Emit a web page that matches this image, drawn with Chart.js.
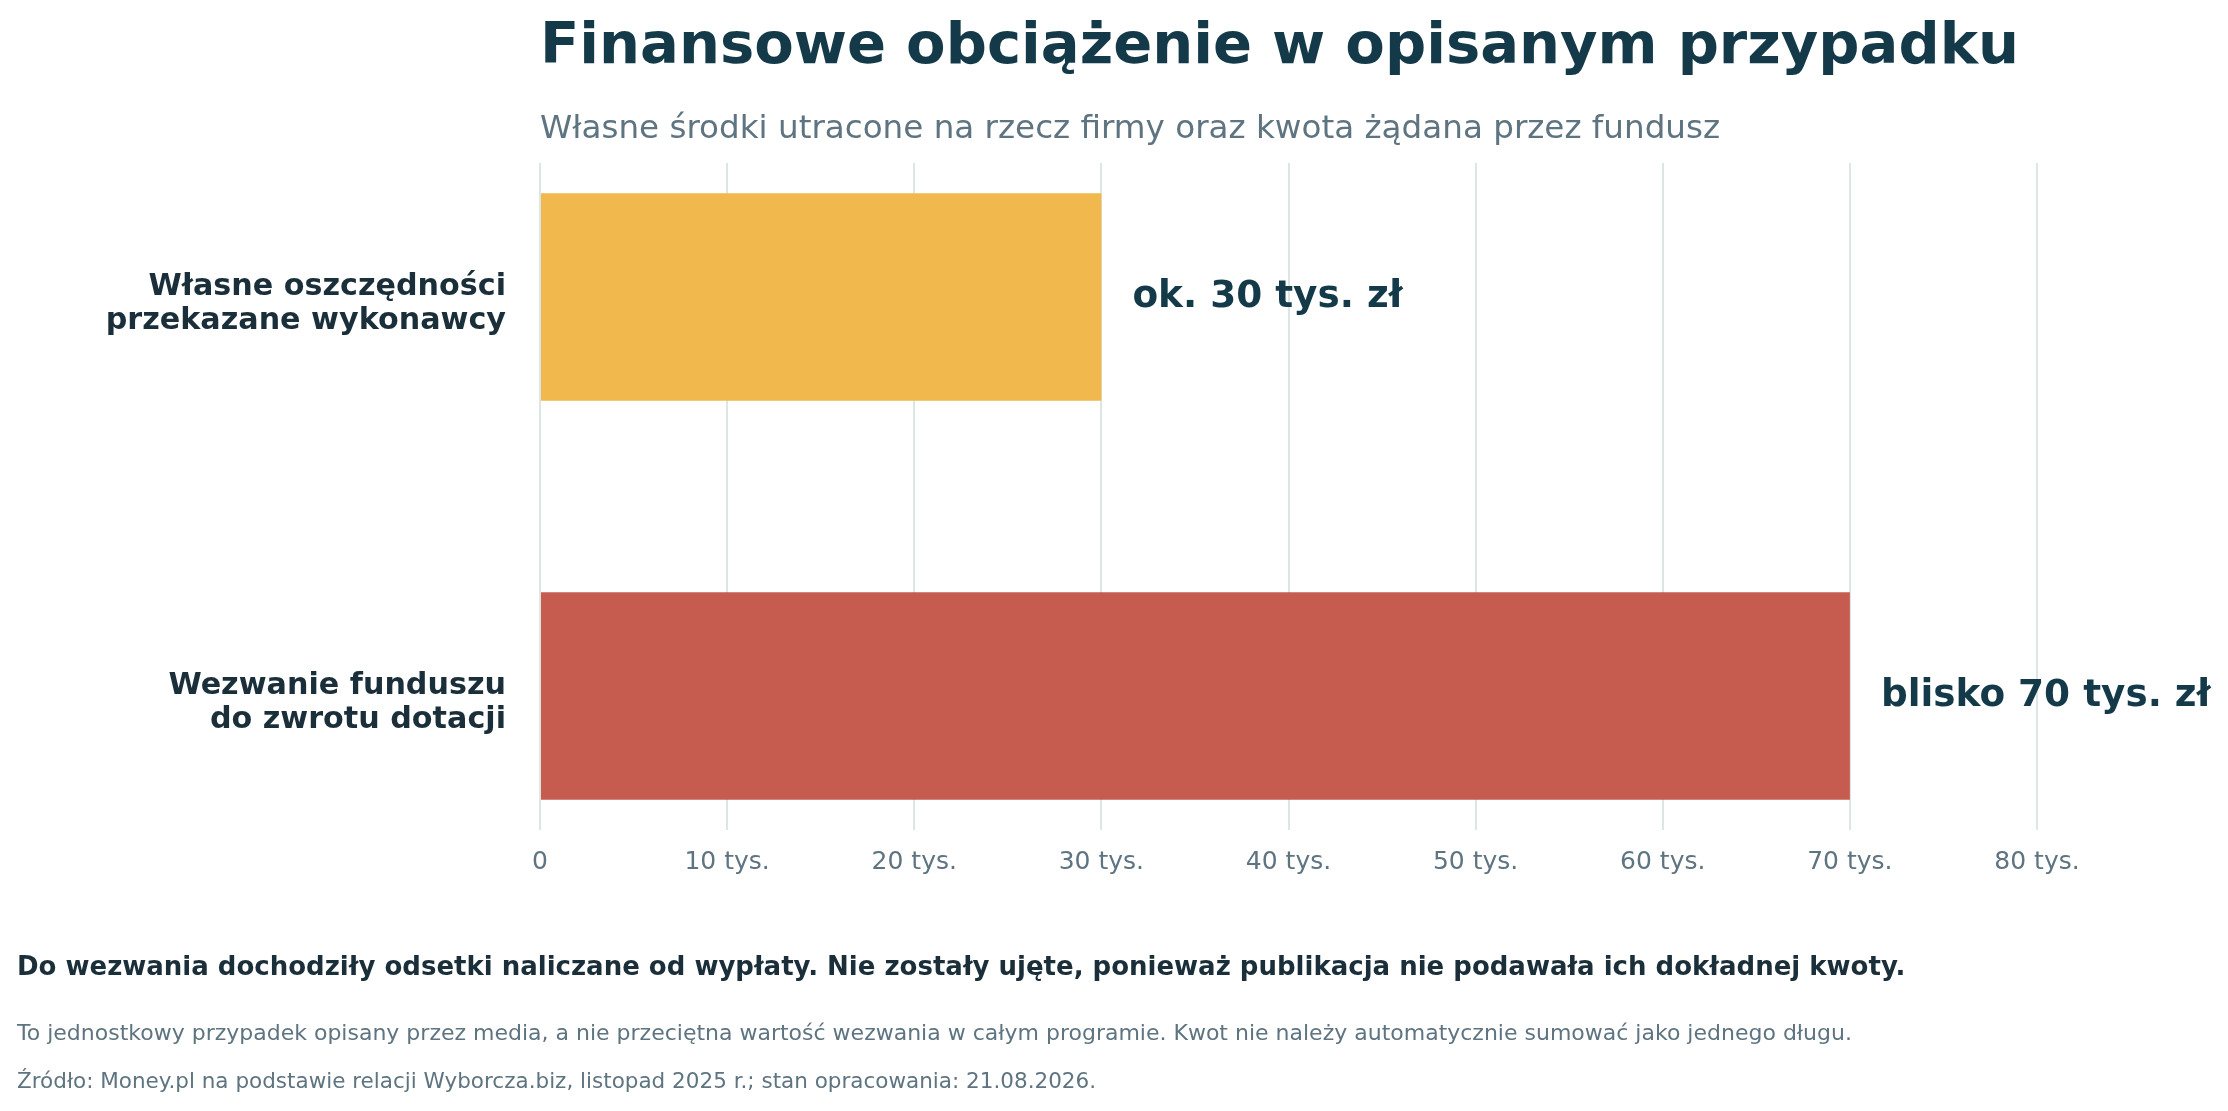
<!DOCTYPE html>
<html lang="pl">
<head>
<meta charset="utf-8">
<title>Finansowe obciążenie w opisanym przypadku</title>
<script src="https://cdn.jsdelivr.net/npm/chart.js@4.4.1/dist/chart.umd.min.js"></script>
<style>
  html, body { margin: 0; padding: 0; background: #ffffff; }
  #wykres { display: block; }
</style>
</head>
<body>
<canvas id="wykres" width="2228" height="1111"></canvas>
<script>
// dane
const kategorie = [
    ["Własne oszczędności", "przekazane wykonawcy"],
    ["Wezwanie funduszu", "do zwrotu dotacji"]
];
const kwoty = [30000, 70000];
const etykietyKwot = ["ok. 30 tys. zł", "blisko 70 tys. zł"];
const koloryBelek = ["#F1B84E", "#C55C4F"];
const etykietyOsiX = ["0", "10 tys.", "20 tys.", "30 tys.", "40 tys.", "50 tys.", "60 tys.", "70 tys.", "80 tys."];

const tytul = "Finansowe obciążenie w opisanym przypadku";
const podtytul = "Własne środki utracone na rzecz firmy oraz kwota żądana przez fundusz";
const uwaga = "Do wezwania dochodziły odsetki naliczane od wypłaty. Nie zostały ujęte, ponieważ publikacja nie podawała ich dokładnej kwoty.";
const zastrzezenie = "To jednostkowy przypadek opisany przez media, a nie przeciętna wartość wezwania w całym programie. Kwot nie należy automatycznie sumować jako jednego długu.";
const zrodlo = "Źródło: Money.pl na podstawie relacji Wyborcza.biz, listopad 2025 r.; stan opracowania: 21.08.2026.";

const FONT = "'DejaVu Sans', 'Noto Sans', sans-serif";
const ciemny = "#1A2F3A";
const granat = "#143A4A";
const szary = "#5E7480";

// napisy przy końcach belek
const podpisyBelek = {
    id: "podpisyBelek",
    afterDatasetsDraw(chart) {
        const ctx = chart.ctx;
        const meta = chart.getDatasetMeta(0);
        ctx.save();
        ctx.font = "bold 37.4px " + FONT;
        ctx.fillStyle = granat;
        ctx.textAlign = "left";
        ctx.textBaseline = "middle";
        meta.data.forEach((bar, i) => {
            ctx.fillText(etykietyKwot[i], bar.x + 31, bar.y);
        });
        ctx.restore();
    }
};

// tytuł, podtytuł i przypisy
const teksty = {
    id: "teksty",
    afterDraw(chart) {
        const ctx = chart.ctx;
        const left = chart.chartArea.left;
        ctx.save();
        ctx.textAlign = "left";
        ctx.textBaseline = "alphabetic";
        ctx.fillStyle = granat;
        ctx.font = "bold 57.6px " + FONT;
        ctx.fillText(tytul, left, 63);
        ctx.fillStyle = szary;
        ctx.font = "32.6px " + FONT;
        ctx.fillText(podtytul, left, 138);

        ctx.textBaseline = "middle";
        ctx.fillStyle = ciemny;
        ctx.font = "bold 26px " + FONT;
        ctx.fillText(uwaga, 17, 968);
        ctx.fillStyle = szary;
        ctx.font = "22px " + FONT;
        ctx.fillText(zastrzezenie, 17, 1034);
        ctx.font = "21.5px " + FONT;
        ctx.fillText(zrodlo, 17, 1082);
        ctx.restore();
    }
};

new Chart(document.getElementById("wykres").getContext("2d"), {
    type: "bar",
    data: {
        datasets: [{
            data: kwoty.map((v, i) => ({ x: v, y: i })),
            backgroundColor: koloryBelek,
            borderWidth: 0,
            barPercentage: 0.52,
            categoryPercentage: 1.0
        }]
    },
    options: {
        indexAxis: "y",
        responsive: false,
        devicePixelRatio: 1,
        animation: false,
        layout: {
            padding: { top: 163, right: 191, bottom: 221, left: 0 }
        },
        scales: {
            x: {
                type: "linear",
                min: 0,
                max: 80000,
                afterFit: (s) => { s.height = 60; },
                ticks: {
                    stepSize: 10000,
                    padding: 17,
                    color: szary,
                    font: { family: FONT, size: 25 },
                    callback: (v, i) => etykietyOsiX[i]
                },
                grid: { color: "#DCE6E6", lineWidth: 2, drawTicks: false },
                border: { display: false }
            },
            y: {
                type: "linear",
                min: -0.336,
                max: 1.336,
                offset: false,
                reverse: true,
                afterFit: (s) => { s.width = 540; },
                afterBuildTicks: (s) => { s.ticks = kategorie.map((k, i) => ({ value: i })); },
                ticks: {
                    padding: 34,
                    labelOffset: 7,
                    color: ciemny,
                    font: { family: FONT, size: 30.2, weight: "bold", lineHeight: 1.13 },
                    callback: (v) => kategorie[v]
                },
                grid: { display: false, drawTicks: false },
                border: { display: false }
            }
        },
        plugins: {
            legend: { display: false },
            tooltip: { enabled: false }
        }
    },
    plugins: [podpisyBelek, teksty]
});
</script>
</body>
</html>
